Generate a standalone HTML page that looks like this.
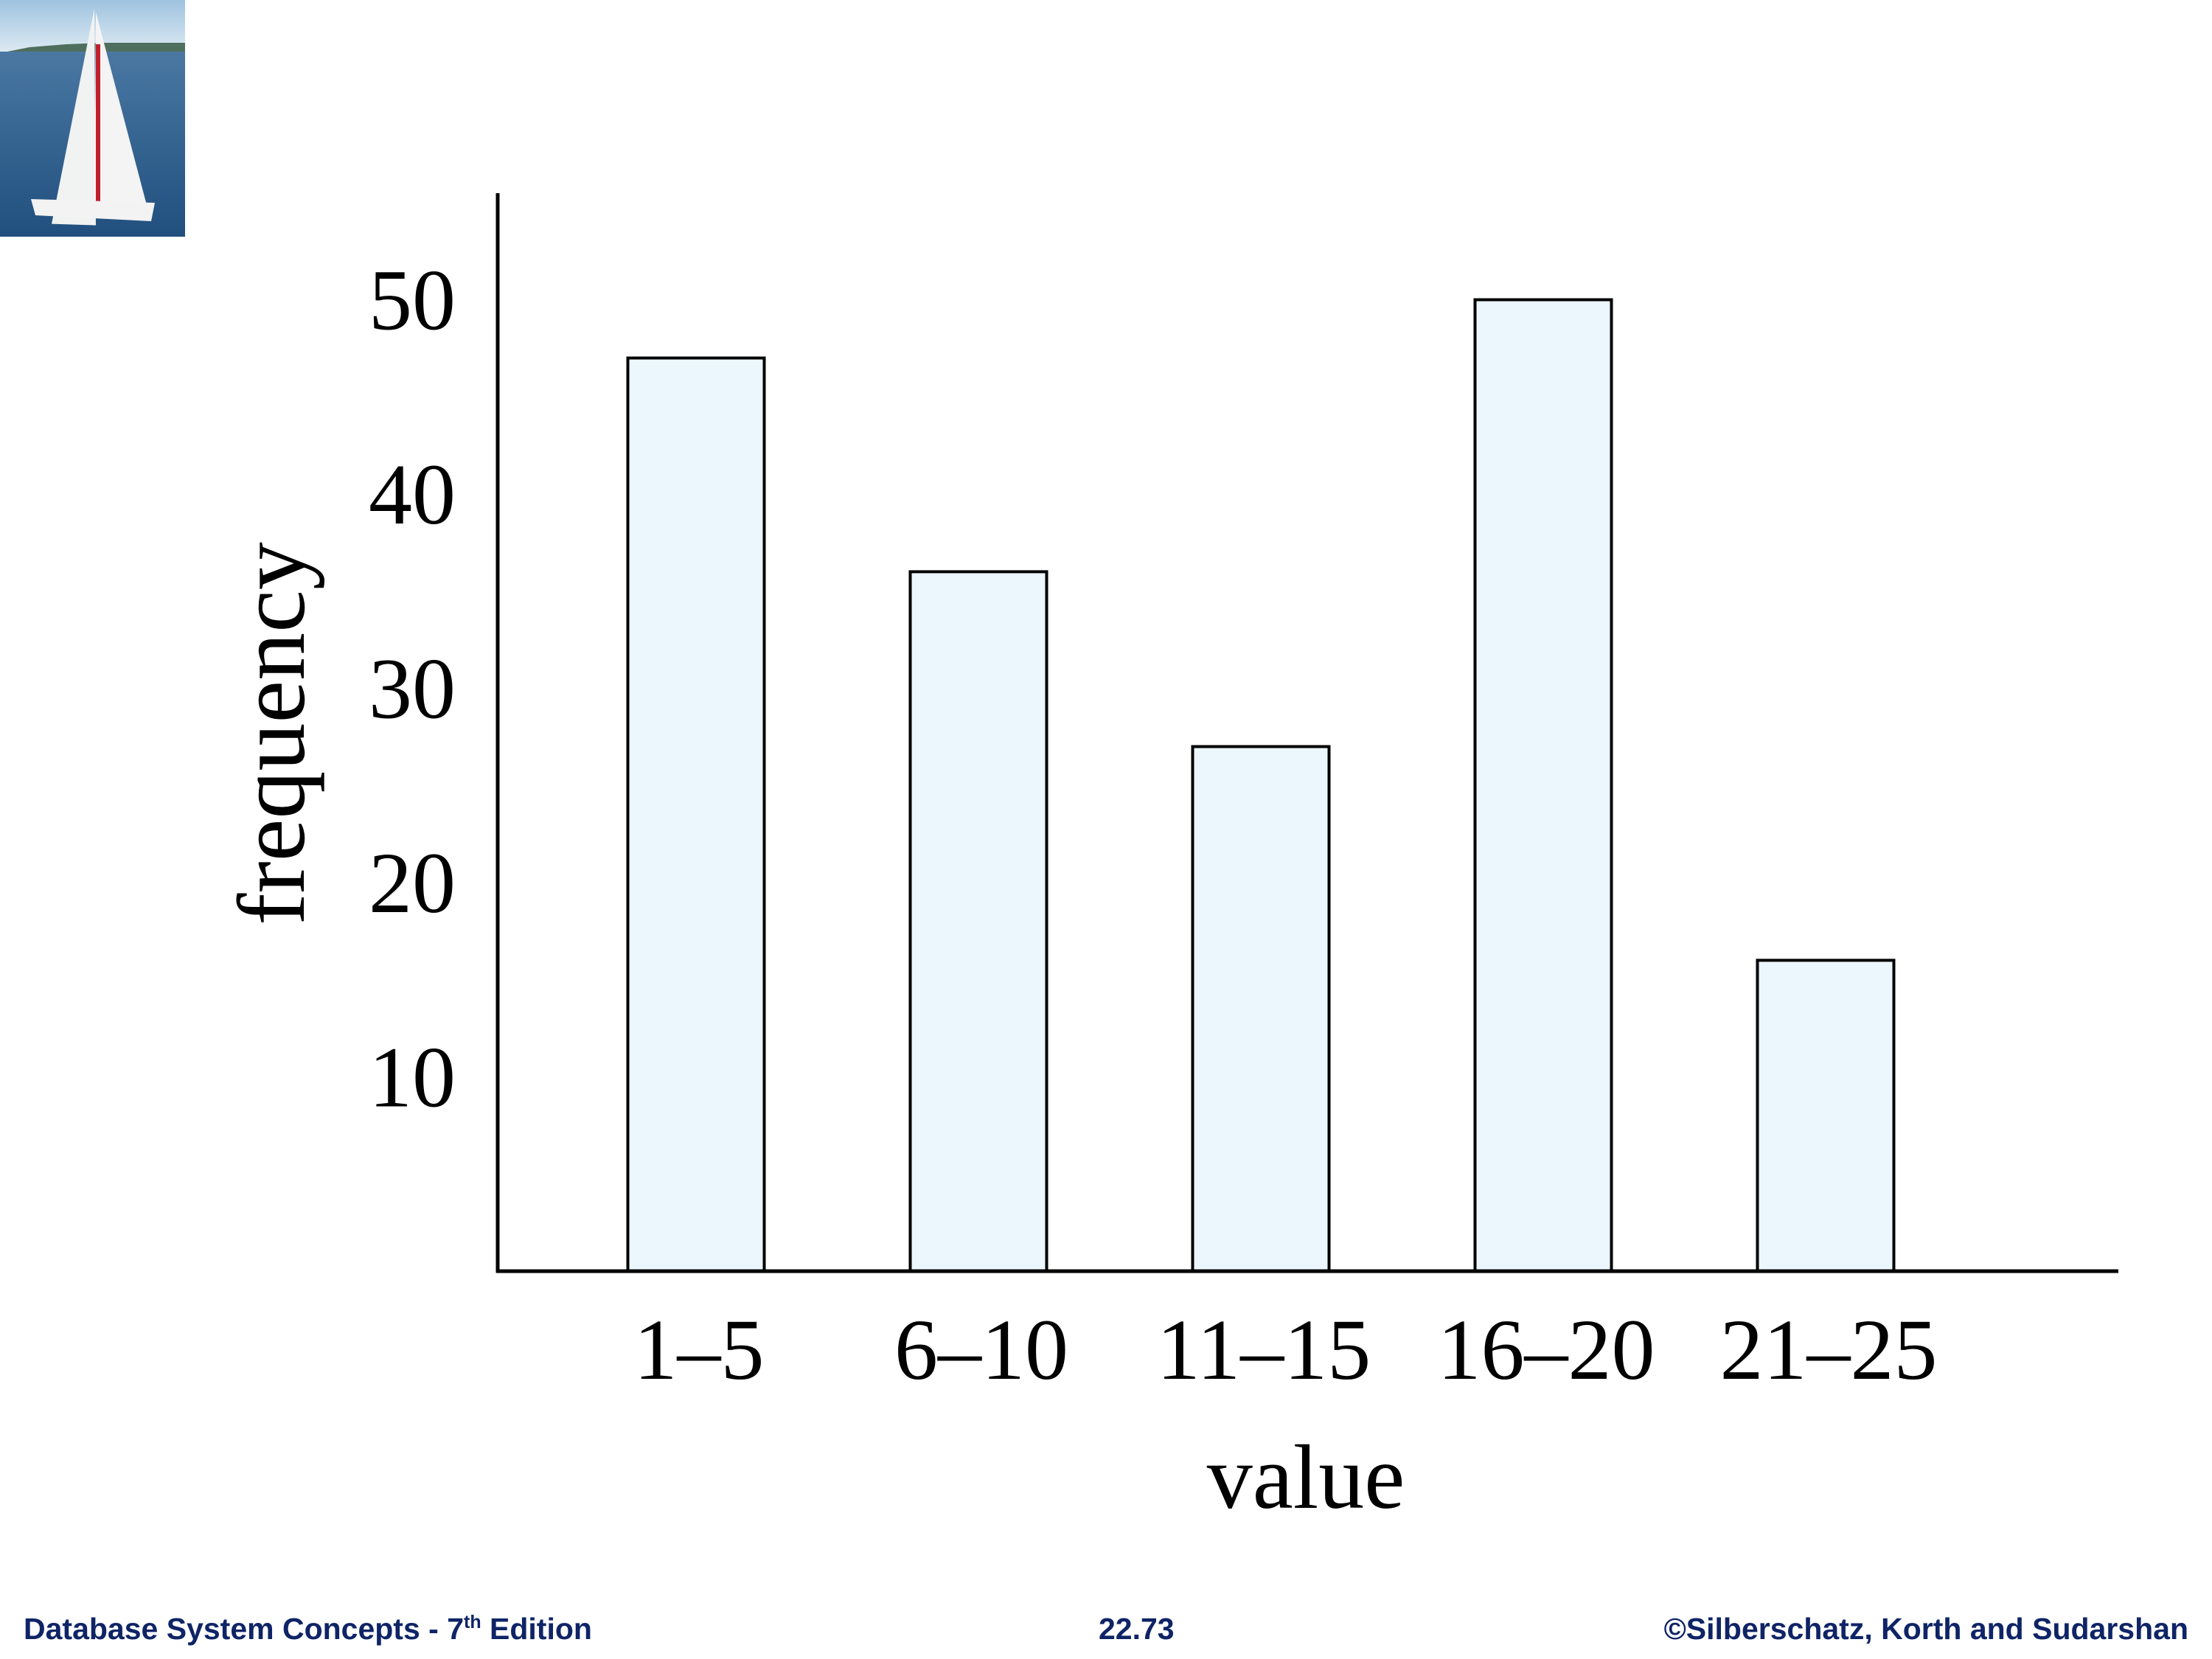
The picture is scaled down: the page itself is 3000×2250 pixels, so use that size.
<!DOCTYPE html>
<html><head><meta charset="utf-8">
<style>
html,body{margin:0;padding:0;background:#fff;}
body{width:3000px;height:2250px;position:relative;overflow:hidden;font-family:"Liberation Serif",serif;}
.foot{position:absolute;top:2186px;font-family:"Liberation Sans",sans-serif;font-weight:bold;font-size:41px;color:#0f2466;white-space:nowrap;}
</style></head>
<body>
<svg style="position:absolute;left:0;top:0" width="251" height="321" viewBox="0 0 251 321">
<defs><linearGradient id="sky" x1="0" y1="0" x2="0" y2="1"><stop offset="0" stop-color="#9ec3df"/><stop offset="1" stop-color="#dce9f2"/></linearGradient>
<linearGradient id="sea" x1="0" y1="0" x2="0" y2="1"><stop offset="0" stop-color="#4a78a3"/><stop offset="1" stop-color="#214f7e"/></linearGradient></defs>
<rect width="251" height="70" fill="url(#sky)"/>
<path d="M0 72 L40 64 L90 60 L140 58 L251 58 L251 72 Z" fill="#4f6f5e"/>
<rect y="70" width="251" height="251" fill="url(#sea)"/>
<polygon points="128,22 70,320 130,322" fill="#f1f2f2" transform="translate(0,-10) scale(1,0.98)"/>
<polygon points="130,35 128,330 200,330" fill="#f4f4f4" transform="translate(0,-15) scale(1,0.9)"/>
<rect x="130" y="60" width="6" height="230" fill="#c0202c"/>
<path d="M42 300 L210 305 L205 330 L48 322 Z" fill="#f3f3f3" transform="translate(0,-30)"/>
</svg>

<svg id="chart" style="position:absolute;left:0;top:0" width="3000" height="2250"></svg>

<div class="foot" style="left:32px">Database System Concepts - 7<sup style="font-size:25px;vertical-align:15px">th</sup> Edition</div>
<div class="foot" style="left:1490px">22.73</div>
<div class="foot" style="right:32px">©Silberschatz, Korth and Sudarshan</div>

<script>
const categories = ["1–5","6–10","11–15","16–20","21–25"];
const frequencies = [47, 36, 27, 50, 16];
const yTicks = [10, 20, 30, 40, 50];

const NS = "http://www.w3.org/2000/svg";
const svg = document.getElementById("chart");
const x0 = 675, xEnd = 2873, yBase = 1724, yTop = 262;
const unit = 26.35;
const pitch = 383, firstCenter = 944, barW = 185;
function yScale(v){ return yBase - v*unit; }
function xScale(i){ return firstCenter + i*pitch; }
function mk(tag, attrs){ const e=document.createElementNS(NS,tag); for(const k in attrs) e.setAttribute(k, attrs[k]); svg.appendChild(e); return e; }

frequencies.forEach((v,i)=>{
  const r = mk("rect",{x:xScale(i)-barW/2, y:yScale(v), width:barW, height:yBase-yScale(v), fill:"#ebf7fd", stroke:"#000", "stroke-width":4});
  
  
  const t = mk("text",{x:xScale(i)+4, y:1870, "font-size":118, "text-anchor":"middle", fill:"#000"});
  t.textContent = categories[i];
  
  
});
yTicks.forEach(v=>{
  const t = mk("text",{x:618, y:yScale(v)+40, "font-size":118, "text-anchor":"end", fill:"#000"});
  t.textContent = v;
  
  
});
const ya = mk("line",{x1:x0,y1:yTop,x2:x0,y2:yBase+2,stroke:"#000","stroke-width":5});


const xa = mk("line",{x1:x0-2,y1:yBase,x2:xEnd,y2:yBase,stroke:"#000","stroke-width":5});


const xt = mk("text",{x:1771, y:2045, "font-size":124, "text-anchor":"middle", fill:"#000"});
xt.textContent = "value";


const yt = mk("text",{x:0, y:0, "font-size":130, "text-anchor":"middle", fill:"#000", transform:"translate(412,995) rotate(-90)"});
yt.textContent = "frequency";


</script>
</body></html>
